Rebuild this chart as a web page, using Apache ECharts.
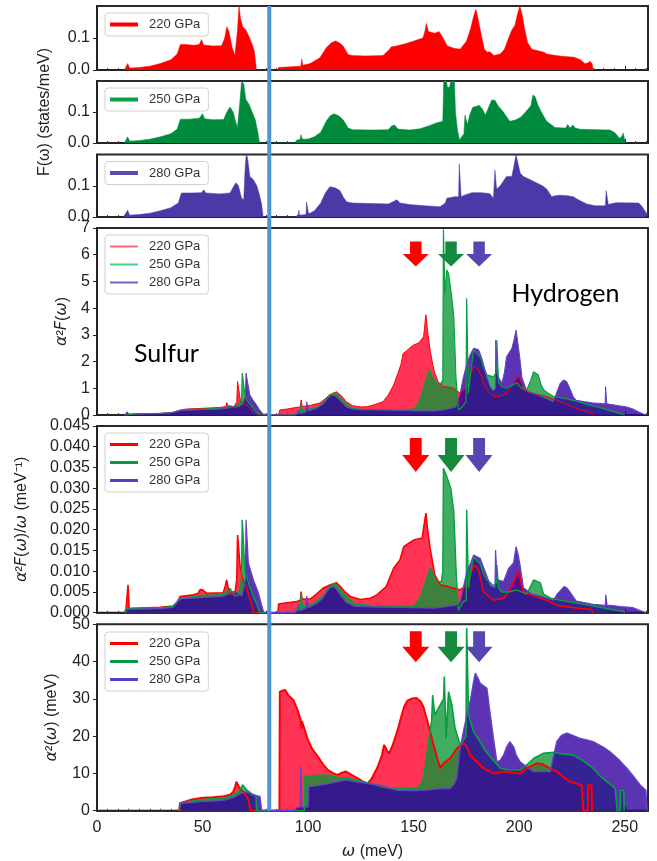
<!DOCTYPE html>
<html>
<head>
<meta charset="utf-8">
<script src="https://cdn.jsdelivr.net/npm/echarts@6/dist/echarts.min.js"></script>
<style>
html,body{margin:0;padding:0;background:#fff;}
#c{width:657px;height:861px;}
</style>
</head>
<body>
<div id="c"></div>
<script>
// ---------------- DATA ----------------
const pressures = ['220 GPa', '250 GPa', '280 GPa'];
const xTicks = [0, 50, 100, 150, 200, 250];
const xMax = 261;
const dividerOmega = 81.6;        // sulfur / hydrogen separation (meV)
const arrowOmega = [151, 167.7, 181];   // 220, 250, 280 GPa arrows
const arrowLevel = [6.03, 0.038, 44.0]; // arrow height in panels 4,5,6

// y ranges: [min, max, interval]
const yF = [0, 0.2, 0.1];
const yA2F = [0, 7, 1];
const yA2Fw = [0, 0.045, 0.005];
const yA2 = [0, 50, 10];

// Phonon DOS F(w) (states/meV)
const F220 = [[13,0],[13.5,0.005],[14.5,0.02],[15.5,0.006],[20,0.008],[25,0.012],[30,0.02],[35,0.032],[38,0.05],[39.5,0.08],[42,0.08],[46,0.077],[48.5,0.08],[49.5,0.095],[50.5,0.078],[55,0.075],[59,0.076],[60.5,0.1],[61.5,0.135],[62.5,0.12],[64,0.07],[65.3,0.045],[66.5,0.12],[67.3,0.2],[68,0.16],[69,0.135],[70.5,0.125],[72,0.105],[73.5,0.08],[74.5,0.06],[75.2,0.02],[75.5,0],
[85.5,0],[86,0.008],[92,0.01],[96.6,0.012],[97,0.034],[97.5,0.015],[101,0.02],[103,0.028],[105.6,0.038],[108.7,0.07],[111,0.085],[113,0.091],[115,0.084],[116.6,0.075],[119,0.048],[121,0.045],[127,0.044],[135.5,0.045],[137,0.055],[138.6,0.065],[139.3,0.072],[140,0.07],[141.8,0.075],[146,0.082],[149.7,0.09],[154.4,0.1],[155.3,0.12],[156,0.145],[157,0.12],[160,0.115],[162,0.12],[163.5,0.105],[166,0.075],[169,0.068],[172,0.065],[175,0.09],[177,0.13],[178.5,0.17],[179.5,0.19],[180.5,0.16],[182,0.11],[183.5,0.065],[185,0.055],[186,0.058],[188,0.045],[191,0.05],[193,0.065],[195,0.1],[196.5,0.125],[198,0.14],[199,0.17],[200.3,0.2],[201.5,0.17],[202.5,0.13],[204,0.085],[206,0.065],[209,0.06],[212,0.055],[213,0.05],[215,0.048],[220,0.043],[226,0.04],[229,0.032],[231,0.02],[232.5,0.022],[233.5,0.027],[234.5,0.02],[235,0]];

const F250 = [[13,0],[13.5,0.005],[14.5,0.02],[15.5,0.006],[20,0.008],[25,0.012],[30,0.02],[35,0.03],[38,0.045],[39.5,0.077],[44,0.077],[48.5,0.08],[50,0.094],[51,0.078],[55,0.075],[60,0.076],[61.5,0.1],[63,0.116],[64.5,0.1],[66.5,0.048],[67.5,0.12],[68.5,0.2],[69.5,0.19],[70.5,0.14],[72,0.125],[73.5,0.1],[75,0.075],[76.3,0.03],[77,0],
[93.8,0],[94.3,0.008],[96.2,0.012],[96.6,0.027],[97.3,0.012],[100,0.013],[103,0.02],[106,0.035],[108.7,0.072],[110.5,0.088],[112.3,0.094],[114.5,0.088],[116.6,0.075],[119,0.048],[121,0.043],[130,0.042],[138,0.043],[139.5,0.055],[141,0.058],[142.5,0.045],[148,0.042],[153,0.046],[157,0.055],[161,0.065],[163.8,0.07],[164.2,0.2],[165.5,0.2],[166,0.18],[167,0.18],[167.6,0.2],[169.3,0.2],[169.8,0.1],[170.8,0.04],[171.7,0.01],[172.8,0.02],[173.8,0.03],[174.3,0.09],[175,0.09],[175.5,0.06],[176.5,0.09],[178,0.115],[179.5,0.118],[181,0.122],[182.5,0.11],[184,0.09],[185.5,0.115],[187,0.139],[188.5,0.138],[190,0.12],[192.5,0.1],[195.5,0.07],[198.5,0.075],[201,0.085],[203,0.1],[205.5,0.12],[206.5,0.155],[207.5,0.15],[209,0.12],[210.5,0.1],[213,0.07],[217,0.05],[222,0.048],[223,0.06],[224,0.048],[225.5,0.058],[226.5,0.048],[229,0.044],[243,0.042],[245.5,0.032],[247.5,0.015],[248.5,0.02],[249.3,0.032],[250,0.01],[250.3,0]];

const F280 = [[12.5,0],[13,0.005],[14.5,0.022],[15.5,0.006],[20,0.008],[25,0.012],[30,0.02],[35,0.03],[38.5,0.045],[40,0.077],[45,0.077],[49.5,0.078],[50.6,0.087],[51.5,0.077],[58,0.074],[63,0.077],[64.5,0.095],[65.8,0.11],[67,0.1],[68.5,0.06],[69.5,0.055],[70.2,0.16],[70.7,0.2],[71.3,0.19],[72.4,0.13],[74,0.12],[75.7,0.1],[77,0.07],[78,0.04],[78.7,0],
[93.5,0],[94,0.005],[95.3,0.006],[95.6,0.022],[96,0.006],[99,0.008],[99.3,0.048],[99.8,0.048],[100.2,0.01],[103,0.02],[106,0.045],[108,0.075],[110.3,0.097],[113,0.093],[115,0.085],[117,0.06],[118.4,0.048],[121,0.045],[130,0.043],[138,0.042],[140.5,0.05],[142,0.055],[143.5,0.045],[148,0.04],[155,0.036],[162.5,0.033],[165,0.045],[165.7,0.06],[169.5,0.065],[171.3,0.065],[171.6,0.17],[172.2,0.17],[172.5,0.065],[174,0.07],[177.6,0.078],[182,0.078],[186,0.075],[187.8,0.06],[188.3,0.06],[188.5,0.15],[189,0.15],[189.3,0.09],[191,0.1],[193,0.12],[194,0.13],[196.5,0.13],[197.4,0.16],[198.5,0.2],[199.8,0.16],[200.5,0.14],[202,0.13],[205,0.12],[208,0.11],[211,0.1],[213,0.09],[215.4,0.065],[217,0.068],[219,0.07],[223,0.068],[225.6,0.065],[228,0.055],[232,0.042],[236,0.036],[240.8,0.036],[241.2,0.084],[241.8,0.084],[242.2,0.04],[244,0.043],[246,0.046],[256.6,0.045],[258,0.035],[259.5,0.02],[261,0.005]];

// Eliashberg function a2F(w)
const A220 = [[13,0],[13.5,0.05],[20,0.05],[30,0.06],[36,0.1],[39,0.18],[42,0.22],[50,0.25],[58,0.28],[61,0.32],[61.5,0.46],[62.3,0.3],[65,0.32],[66.2,0.5],[66.6,1.25],[67.3,1.2],[67.8,0.6],[69,0.45],[71,0.35],[73,0.2],[74.5,0.05],[75,0],
[86,0],[86.6,0.19],[90,0.22],[94,0.28],[96.3,0.3],[96.7,0.56],[97.2,0.32],[101,0.36],[105.6,0.45],[108,0.6],[110,0.75],[113.5,0.87],[116,0.7],[118,0.5],[121,0.35],[125,0.3],[128,0.31],[132,0.4],[135.5,0.5],[138,0.75],[140.5,1.12],[142.5,1.55],[144,1.9],[145,2.3],[146.6,2.4],[148,2.5],[150,2.62],[152.5,2.7],[154.7,2.93],[155.8,3.75],[156.5,3.2],[157.8,2.43],[159,1.9],[160,1.57],[161.8,1.2],[164,1.06],[166,1.05],[168.9,1.0],[172,0.82],[175.2,1.06],[177,1.5],[178.4,1.81],[180.7,1.7],[182,1.45],[183,1.2],[185,0.9],[187.8,0.69],[190,0.7],[192.6,0.75],[195,0.9],[197.3,1.2],[199.7,1.5],[201,1.2],[202,0.94],[204,0.85],[206.8,0.8],[210,0.75],[213,0.69],[216,0.6],[219.4,0.5],[224,0.35],[228.8,0.19],[233.6,0.1],[235,0]];

const A250 = [[13,0],[13.5,0.05],[20,0.05],[30,0.06],[36,0.1],[39,0.16],[42,0.2],[50,0.22],[60,0.25],[63,0.35],[64.5,0.3],[66,0.3],[68.5,0.6],[68.8,1.57],[69.5,1.5],[70,0.8],[71,0.55],[73,0.35],[75,0.15],[77,0],
[94,0],[94.5,0.1],[96.3,0.15],[96.7,0.4],[97.2,0.18],[100,0.2],[104,0.3],[107,0.45],[110,0.7],[112,0.82],[114,0.75],[116,0.55],[118,0.4],[121,0.25],[125,0.2],[135,0.2],[145,0.2],[150,0.22],[152,0.4],[154,0.8],[156,1.4],[157.8,1.69],[159,1.4],[160.8,1.19],[163,1.2],[163.8,1.3],[164.1,6.95],[164.5,6.95],[164.8,4.5],[165.7,5.43],[166.5,5.3],[168,4.43],[169,3.68],[170,1.43],[171.2,0.19],[173,0.3],[174.8,0.5],[175.1,4.37],[175.5,4.37],[175.9,0.8],[177,1.6],[178.4,2.43],[180,2.3],[181.5,2.18],[183,1.8],[184.7,1.5],[187.8,1.43],[189.1,1.6],[189.4,2.8],[189.8,2.8],[190.2,1.2],[192,1.05],[194,1.0],[196,1.1],[198.9,1.2],[201,1.0],[203.6,0.95],[205.5,1.3],[206.8,1.62],[209,1.5],[210.5,1.1],[211.5,0.95],[214,0.8],[216,0.7],[222.5,0.6],[228,0.5],[232,0.4],[237,0.3],[241.5,0.2],[246,0.1],[247.8,0.05],[250,0]];

const A280 = [[13,0],[13.5,0.04],[14.3,0.12],[15,0.04],[20,0.04],[30,0.05],[36,0.09],[39,0.16],[42,0.18],[50,0.2],[58,0.22],[63,0.27],[65.5,0.35],[67,0.3],[69,0.4],[70.3,0.7],[70.6,1.57],[71.2,1.5],[72.4,0.75],[74,0.55],[75.6,0.37],[77,0.2],[78,0.1],[79,0],
[93.5,0],[94,0.05],[95.3,0.05],[95.6,0.2],[96,0.05],[99,0.1],[99.3,0.5],[99.8,0.5],[100.2,0.15],[104,0.25],[107,0.4],[109,0.6],[111,0.75],[113,0.7],[115,0.55],[118,0.3],[121,0.22],[130,0.2],[140,0.18],[150,0.15],[160,0.15],[165,0.2],[170,0.3],[172,0.8],[173.5,1.4],[175.2,1.93],[177,2.3],[178.4,2.5],[180.7,2.45],[182,2.2],[183,1.93],[184.7,1.4],[186,1.1],[187.5,0.9],[188.7,1.0],[188.9,2.8],[189.3,2.8],[189.6,1.5],[190.3,1.4],[191.8,1.2],[193,1.6],[194,2.18],[196.5,2.5],[197.5,2.8],[198.5,3.18],[199.7,2.5],[200.5,2.0],[201.3,1.4],[203.6,0.9],[207,0.8],[210,0.7],[216.2,0.5],[218,0.9],[219.5,1.2],[221,1.31],[222.5,1.25],[224,1.0],[225.5,0.7],[227,0.55],[231,0.5],[235,0.45],[240.7,0.42],[240.9,1.06],[241.3,1.06],[241.5,0.42],[243,0.4],[247,0.35],[251,0.3],[254,0.22],[257,0.1],[259,0.03],[260,0]];

// a2F(w)/w (1/meV)
const B220 = [[13.5,0],[13.8,0.001],[14.5,0.001],[14.7,0.0067],[15,0.0067],[15.2,0.001],[24,0.0012],[30,0.0013],[36,0.0016],[38,0.0025],[39.3,0.0039],[45.7,0.0043],[48,0.0047],[48.8,0.0056],[50,0.0055],[51.9,0.0047],[59.8,0.0048],[60.8,0.0065],[61.4,0.0079],[62.3,0.0055],[63,0.0045],[65.3,0.0045],[66.2,0.008],[66.6,0.0187],[67.2,0.0185],[67.7,0.0115],[69,0.008],[70.9,0.0059],[72,0.004],[73.2,0.002],[74,0],
[85.8,0],[86,0.0021],[90,0.0024],[94.6,0.0027],[96.4,0.003],[96.7,0.0051],[97.1,0.0033],[101,0.0033],[104,0.0045],[107,0.0059],[110,0.0066],[113.5,0.0072],[115.5,0.0062],[117.4,0.005],[120,0.0039],[124.7,0.0032],[129.4,0.0035],[132.6,0.0043],[137,0.0063],[140.5,0.0107],[143.5,0.0127],[145.3,0.0159],[147,0.0165],[150,0.0175],[154,0.018],[155.8,0.024],[156.6,0.02],[157.8,0.0155],[160,0.0091],[162.6,0.0067],[166,0.0063],[169,0.0059],[172,0.0055],[175.2,0.0067],[177,0.0095],[178.4,0.0115],[180.7,0.0105],[183,0.0051],[185,0.0042],[187.8,0.003],[192.6,0.0035],[195,0.005],[197.3,0.0075],[199.7,0.0099],[201,0.007],[202,0.0051],[206,0.0042],[209.9,0.0035],[213,0.003],[217.8,0.0018],[223,0.0014],[228.8,0.001],[234,0.0008],[235,0]];

const B250 = [[13.5,0],[14,0.001],[30,0.0012],[36,0.0015],[39.3,0.0035],[45,0.0038],[50,0.0042],[55,0.0042],[60,0.0045],[63,0.0059],[64,0.005],[65.3,0.004],[67,0.0042],[68.4,0.008],[68.8,0.0224],[69.6,0.0224],[70.1,0.01],[72.5,0.006],[74,0.004],[75.7,0.002],[77,0],
[94,0],[94.3,0.001],[96.4,0.0015],[96.7,0.0047],[97.2,0.0015],[100,0.0015],[104,0.0028],[107,0.004],[110,0.0062],[112,0.0071],[114,0.0065],[116,0.005],[118,0.004],[122,0.0022],[130,0.0017],[140,0.0016],[150,0.0017],[152.5,0.003],[154.7,0.0059],[157.8,0.0107],[159.5,0.009],[160.8,0.0075],[163.1,0.0075],[163.8,0.01],[164.1,0.0348],[164.6,0.0348],[165.7,0.0328],[167.6,0.03],[169,0.0244],[170.2,0.0091],[171.2,0.0006],[173.5,0.0027],[174.9,0.003],[175.1,0.0248],[175.5,0.0248],[176,0.0059],[177,0.01],[178.4,0.0135],[180,0.0125],[181.5,0.0119],[183,0.0095],[184.7,0.008],[187.8,0.0065],[189.1,0.007],[189.4,0.0115],[189.8,0.0115],[190.2,0.006],[191.8,0.005],[195,0.005],[198.9,0.0055],[201,0.005],[203.6,0.0045],[205.5,0.0065],[206.8,0.0079],[210,0.0072],[211.5,0.0045],[215,0.0035],[219.4,0.003],[228.8,0.0022],[235,0.0016],[241.5,0.001],[249.4,0.0003],[250,0]];

const B280 = [[13,0],[13.5,0.0008],[30,0.001],[36,0.0013],[39.3,0.0033],[45,0.0035],[50,0.0037],[55,0.0038],[60,0.004],[64.5,0.0051],[66.5,0.0048],[68.6,0.004],[70.3,0.008],[70.6,0.0224],[71.3,0.0224],[71.7,0.012],[74,0.008],[76.3,0.005],[77.9,0.002],[79,0],
[93.5,0],[94,0.0005],[95.3,0.0005],[95.6,0.002],[96,0.0005],[99,0.001],[99.3,0.004],[99.8,0.004],[100.2,0.0012],[104,0.0022],[107,0.0035],[109,0.0052],[111,0.0063],[113,0.006],[115,0.0045],[118,0.0025],[122,0.0015],[130,0.0014],[140,0.0013],[150,0.0012],[160,0.0011],[166,0.0015],[170,0.0018],[172,0.0025],[173.5,0.006],[175.2,0.0099],[177,0.012],[178.4,0.0139],[180,0.0135],[181.5,0.0131],[183.9,0.0099],[186.3,0.0065],[188.5,0.006],[188.8,0.0151],[189.2,0.0151],[189.5,0.008],[190.3,0.008],[192.6,0.0075],[195,0.0107],[197.3,0.012],[198.5,0.0159],[199.5,0.014],[200.4,0.0115],[202,0.006],[206,0.0045],[209.9,0.004],[216.2,0.003],[218,0.0045],[221.2,0.0063],[222.5,0.006],[224,0.005],[227,0.0028],[235,0.002],[240.8,0.0018],[241,0.0043],[241.4,0.0043],[241.6,0.0018],[243,0.0018],[248,0.0015],[254,0.0012],[257,0.0006],[260,0]];

// a^2(w) (meV)
const C220 = [[39,0],[39.3,2.0],[45,3.0],[50,3.5],[55,3.6],[60,3.9],[63,4.3],[64.5,5.0],[65.5,6.5],[66,7.8],[66.5,7.5],[67.6,6.0],[70,4.5],[71.7,3.0],[72.5,2.5],[72.7,0],
[86.4,0],[86.6,31.9],[89,32.4],[90.6,31],[93,29.7],[95,27],[96.5,24.3],[96.8,22],[97.1,24],[99.9,19],[102,16.5],[104.6,14.5],[107,12.5],[109.4,10.9],[112,10],[114.1,9.6],[116,10.2],[118,10.5],[120,9.8],[123.5,8.7],[126,7.8],[128.2,7.3],[130,8.5],[133,11.8],[135,15],[136,17.6],[136.8,17.8],[137.5,16],[138.4,15.4],[140,17.5],[142.4,21.6],[144,25],[145.5,27.9],[147,29.5],[149.4,30.1],[151.5,30.2],[153.4,29.2],[154.6,27.9],[157,23],[159.4,17.6],[162.6,11.4],[164.1,12.7],[167.3,14],[170.4,16.7],[173.5,18.1],[175.2,17.2],[176.7,14.9],[179.9,13.1],[183,11.4],[187.8,10],[191,10.3],[194.1,10.5],[197,10.2],[200.4,10],[203.6,11.4],[208.3,12.7],[211,12.5],[213,11.8],[217.8,10.5],[221,9],[224,7.8],[229.6,6.9],[230.1,6.9],[230.3,0],[232.5,0],[232.7,6.8],[234.3,6.8],[234.5,0]];

const C250 = [[39,0],[39.3,2.0],[45,2.6],[50,3.0],[55,3.2],[60,3.4],[64,4.0],[67,5.0],[69,6.9],[71,5.5],[73.4,4.5],[75.3,4.0],[75.6,0],
[98.3,0],[98.5,9.1],[101,9.3],[105,9.5],[110,9.5],[114,8.9],[118.6,8.7],[124,8.0],[129.6,7.3],[134,6.6],[139,6.0],[146,6.0],[151.6,6.0],[153.5,7.0],[154.8,9.1],[156,14],[157.2,19],[158.5,24],[159,31],[159.5,31],[160,25.7],[162.6,28.4],[164.2,30],[164.5,36],[164.9,36],[165.4,19.4],[166.5,31.9],[168.1,28.4],[169.6,22.1],[172,17.6],[174.8,20],[175.1,49],[175.5,49],[176,25.7],[178.4,21.2],[181.5,18.5],[184,16],[186.3,14.5],[191,11.4],[195,11],[200.4,10.9],[204,12.5],[206.8,14],[211.5,15.4],[216.2,15.7],[220,15.3],[225.6,14.9],[230,13.5],[235,11.4],[238,9.5],[241.5,7.8],[245.5,6.0],[246.2,6.0],[246.4,0],[247.8,0],[248,5.5],[249.5,5.5],[249.7,0]];

const C280 = [[39,0],[39.3,2.0],[45,2.2],[50,2.5],[55,2.6],[60,2.8],[64.5,3.5],[67,4.3],[70,5.1],[72,4.8],[74,4.2],[77.2,3.8],[77.8,3.6],[78,0],
[94,0],[94.3,0.8],[96.3,1.0],[96.5,11.8],[96.8,11.8],[97,1.0],[100,1.0],[100.3,6.4],[105,6.8],[110,7.3],[114,7.8],[118,8.2],[122,7.8],[126,7.5],[134,6.8],[142,5.5],[150,5.4],[154.8,5.5],[160,5.8],[167.3,6.0],[169,7.0],[170.4,8.7],[172,16.7],[173.5,21],[175.2,25.7],[177,30],[178.4,34.6],[179.2,36.9],[180.5,35.5],[181.5,34.2],[184.7,32.8],[186,27],[187.8,19.4],[189.4,13.1],[191,13.5],[192.6,14.9],[194,17],[195.5,18.5],[197.3,17.2],[198.5,15],[200.4,13.1],[203,12],[206.8,10.5],[210,10.5],[214.7,10.5],[216,14],[217.8,18.5],[220,20.2],[222.5,20.8],[225,20.3],[228.8,19.4],[232,19],[235,18.5],[240,17],[243,15.8],[247,13.8],[251,11.4],[254,9.3],[257.3,6.9],[260,5.5],[260.5,0]];

// ---------------- STYLE / LAYOUT ----------------
const FONT = 'Liberation Sans, Arial, sans-serif';
const gridBoxes = [
  {top: 6, height: 64},
  {top: 81, height: 62},
  {top: 154.5, height: 62.5},
  {top: 228, height: 187},
  {top: 426, height: 186.7},
  {top: 624.3, height: 186.4}
];
const chart = echarts.init(document.getElementById('c'), null, {renderer: 'canvas'});

const grids = gridBoxes.map(g => ({left: 97, right: 9, top: g.top, height: g.height,
  show: true, borderColor: '#2a2a2a', borderWidth: 2, backgroundColor: 'transparent'}));

const xAxes = gridBoxes.map((g, i) => ({
  type: 'value', gridIndex: i, min: xTicks[0], max: xMax, interval: xTicks[1] - xTicks[0],
  axisLine: {show: true, lineStyle: {color: '#222', width: 1.5}},
  axisTick: {show: true, inside: true, length: 4, lineStyle: {color: '#222'}},
  minorTick: {show: true, splitNumber: 10, length: 2, lineStyle: {color: '#444'}},
  splitLine: {show: false},
  axisLabel: {show: i === 5, showMaxLabel: false, fontSize: 16, color: '#222', fontFamily: FONT, margin: 9},
  name: i === 5 ? '{i|ω} (meV)' : '',
  nameLocation: 'middle', nameGap: 33,
  nameTextStyle: {fontSize: 16, color: '#222', fontFamily: FONT,
    rich: {i: {fontStyle: 'italic', fontFamily: 'DejaVu Sans', fontSize: 16, color: '#222'}}}
}));

function yAxis(i, range, fmt, name, gap, showMax) {
  return {
    type: 'value', gridIndex: i, min: range[0], max: range[1], interval: range[2],
    axisLine: {show: true, lineStyle: {color: '#222', width: 1.5}},
    axisTick: {show: true, inside: false, length: 4, lineStyle: {color: '#222'}},
    splitLine: {show: false},
    axisLabel: {fontSize: 16, color: '#222', fontFamily: FONT, margin: 7, showMaxLabel: showMax,
      formatter: v => v.toFixed(fmt)},
    name: name, nameLocation: 'middle', nameGap: gap,
    nameTextStyle: {fontSize: 16, color: '#222', fontFamily: FONT,
      rich: {i: {fontStyle: 'italic', fontFamily: 'DejaVu Sans', fontSize: 16, color: '#222'}}}
  };
}
const yAxes = [
  yAxis(0, yF, 1, '', 40, false),
  yAxis(1, yF, 1, 'F(ω) (states/meV)', 44, false),
  yAxis(2, yF, 1, '', 40, false),
  yAxis(3, yA2F, 0, '{i|α}²{i|F}({i|ω})', 26, true),
  yAxis(4, yA2Fw, 3, '{i|α}²{i|F}({i|ω})/{i|ω} (meV⁻¹)', 67, true),
  yAxis(5, yA2, 0, '{i|α}²({i|ω}) (meV)', 37, true)
];

function area(name, data, idx, fill, line, lw) {
  return {type: 'line', name: name, data: data, xAxisIndex: idx, yAxisIndex: idx,
    showSymbol: false, symbol: 'none', animation: false, silent: true,
    lineStyle: {color: line, width: lw}, itemStyle: {color: line},
    areaStyle: {color: fill, opacity: 1}};
}

const dosColors = ['#ff0000', '#008a3c', '#4a3aa8'];
const fillRGBA = ['rgba(255,0,40,0.8)', 'rgba(10,150,55,0.78)', 'rgba(50,0,160,0.8)'];
const lineCol = ['#ff0000', '#05a03f', '#6244c4'];
const arrowCol = ['#ff0000', '#138a3c', '#5646b2'];
const arrowPath = 'path://M28,0 L72,0 L72,50 L100,50 L50,100 L0,50 L28,50 Z';
const arrowSize = [[26, 25], [27, 34], [27, 31]];

function arrows(panel) {
  return pressures.map((p, k) => ({
    coord: [arrowOmega[k], arrowLevel[panel]], symbol: arrowPath,
    symbolSize: arrowSize[panel], symbolKeepAspect: false,
    itemStyle: {color: arrowCol[k]}, label: {show: false}
  }));
}

const series = [
  area(pressures[0], F220, 0, dosColors[0], dosColors[0], 0.5),
  area(pressures[1], F250, 1, dosColors[1], dosColors[1], 0.5),
  area(pressures[2], F280, 2, dosColors[2], dosColors[2], 0.5)
];
const panels = [[A220, A250, A280], [B220, B250, B280], [C220, C250, C280]];
const lws = [[1, 1.2, 1], [1.6, 1.4, 1.2], [2, 1.6, 1.4]];
panels.forEach((set, p) => {
  set.forEach((d, k) => {
    const s = area(pressures[k], d, 3 + p, fillRGBA[k], lineCol[k], lws[p][k]);
    if (k === 2) {
      const mp = arrows(p);
      if (p === 0) {
        mp.push({coord: [32.9, 2.30], symbol: 'circle', symbolSize: 1,
          itemStyle: {color: 'rgba(0,0,0,0)'},
          label: {show: true, position: 'inside', formatter: 'Sulfur', fontSize: 25, color: '#000', fontFamily: 'Lato'}});
        mp.push({coord: [221.9, 4.55], symbol: 'circle', symbolSize: 1,
          itemStyle: {color: 'rgba(0,0,0,0)'},
          label: {show: true, position: 'inside', formatter: 'Hydrogen', fontSize: 25, color: '#000', fontFamily: 'Lato'}});
      }
      s.markPoint = {silent: true, animation: false, data: mp};
    }
    series.push(s);
  });
});

const legendLine = [
  ['#ff0000', '#0aa048', '#5a48b8'],
  ['#ff6478', '#3fd488', '#7a62c8'],
  ['#ff0000', '#0a9a44', '#5a3cc0'],
  ['#ff0000', '#0a9a44', '#5a3cc0']
];
function legend(top, names, cols, h) {
  return {left: 105, top: top, orient: 'vertical', icon: 'rect', itemWidth: 28, itemHeight: h,
    itemGap: 5, padding: [5, 8, 5, 5], borderColor: '#d0d0d0', borderWidth: 1, borderRadius: 3,
    backgroundColor: 'rgba(255,255,255,0.85)', selectedMode: false,
    textStyle: {fontSize: 13, color: '#333', fontFamily: FONT, padding: [0, 0, 0, 6]},
    data: names.map((n, k) => ({name: n, itemStyle: {color: cols[k]}}))};
}
const legends = [
  legend(13, [pressures[0]], [legendLine[0][0]], 4),
  legend(88, [pressures[1]], [legendLine[0][1]], 4),
  legend(161.5, [pressures[2]], [legendLine[0][2]], 4),
  legend(235, pressures, legendLine[1], 2),
  legend(433, pressures, legendLine[2], 3),
  legend(632, pressures, legendLine[3], 3)
];

chart.setOption({
  animation: false,
  backgroundColor: '#fff',
  grid: grids, xAxis: xAxes, yAxis: yAxes, legend: legends, series: series
});

// vertical divider drawn through the library's scales
const pTop = chart.convertToPixel({gridIndex: 0}, [dividerOmega, yF[1]]);
const pBot = chart.convertToPixel({gridIndex: 5}, [dividerOmega, yA2[0]]);
chart.setOption({graphic: [{type: 'line', z: 100, silent: true,
  shape: {x1: pTop[0], y1: pTop[1], x2: pBot[0], y2: pBot[1]},
  style: {stroke: '#4f93d2', lineWidth: 4}}]});
</script>
</body>
</html>
